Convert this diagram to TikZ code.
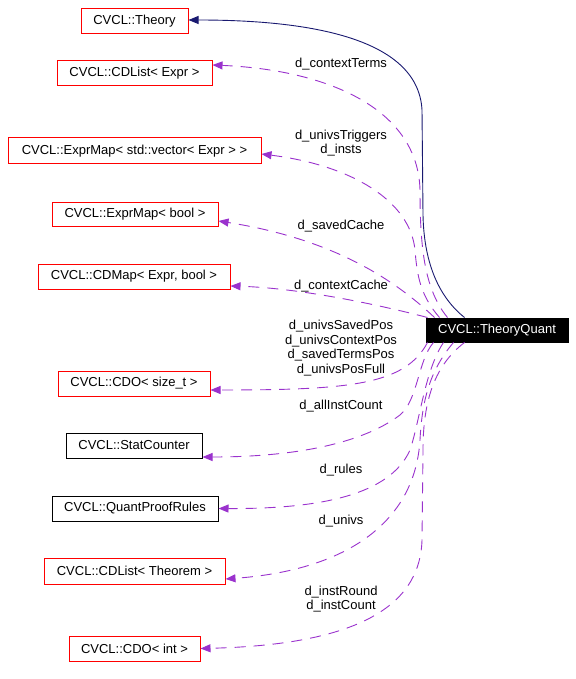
\documentclass[tikz,border=0pt]{standalone}
\usepackage{fontspec}
\setmainfont{Liberation Sans}
\usetikzlibrary{arrows.meta}
\definecolor{orch}{HTML}{9A32CD}
\definecolor{mnblue}{HTML}{191970}
\tikzset{
  box/.style={draw=red, line width=1pt, inner sep=0pt, font=\fontsize{13}{15}\selectfont},
  bbox/.style={draw=black, line width=1pt, inner sep=0pt, font=\fontsize{13}{15}\selectfont},
  lbl/.style={inner sep=0pt, align=center, font=\fontsize{13}{14.6}\selectfont},
  dep/.style={draw=orch, line width=0.9pt, dash pattern=on 11pt off 8pt, -{Triangle[length=10pt,width=8pt]}},
  inh/.style={draw=mnblue, line width=0.9pt, -{Triangle[length=10pt,width=8pt]}},
}
\begin{document}
\begin{tikzpicture}[x=1pt,y=-1pt]
\useasboundingbox (0,0) rectangle (575,679);
% nodes
\node[box, minimum width=107pt, minimum height=25pt] (theory) at (134.5,21.5) {CVCL::Theory};
\node[box, minimum width=155pt, minimum height=25pt] (cdlexpr) at (134.5,73.5) {CVCL::CDList< Expr >};
\node[box, minimum width=253pt, minimum height=26pt] (emvec) at (134.5,151) {CVCL::ExprMap< std::vector< Expr > >};
\node[box, minimum width=166pt, minimum height=24pt] (embool) at (135,214) {CVCL::ExprMap< bool >};
\node[box, minimum width=192pt, minimum height=25pt] (cdmap) at (134,276.5) {CVCL::CDMap< Expr, bool >};
\node[box, minimum width=152pt, minimum height=25pt] (cdosize) at (134,383.5) {CVCL::CDO< size\_t >};
\node[bbox, minimum width=136pt, minimum height=25pt] (stat) at (134,445.5) {CVCL::StatCounter};
\node[bbox, minimum width=166pt, minimum height=25pt] (qpr) at (135,508.5) {CVCL::QuantProofRules};
\node[box, minimum width=181pt, minimum height=26pt] (cdlthm) at (134.5,571) {CVCL::CDList< Theorem >};
\node[box, minimum width=131pt, minimum height=25pt] (cdoint) at (134.5,648.5) {CVCL::CDO< int >};
\node[draw=black, fill=black, text=white, line width=1pt, inner sep=0pt, minimum width=142pt, minimum height=24pt, font=\fontsize{13}{15}\selectfont] (tq) at (497,330) {CVCL::TheoryQuant};
% labels
\node[lbl] (l1) at (341,64) {d\_contextTerms};
\node[lbl] (l2) at (341,143) {d\_univsTriggers\\d\_insts};
\node[lbl] (l3) at (341,226) {d\_savedCache};
\node[lbl] (l4) at (341,286) {d\_contextCache};
\node[lbl] (l5) at (341,348) {d\_univsSavedPos\\d\_univsContextPos\\d\_savedTermsPos\\d\_univsPosFull};
\node[lbl] (l6) at (341,406) {d\_allInstCount};
\node[lbl] (l7) at (341,470) {d\_rules};
\node[lbl] (l8) at (341,521) {d\_univs};
\node[lbl] (l9) at (341,599) {d\_instRound\\d\_instCount};
% edges
\draw[inh] ([xshift=39pt]tq.north west) .. controls (440,298) and (424,265) .. (423,215) -- (422,110) .. controls (418,35) and (300,20) .. ([yshift=1.5pt]theory.east);
\draw[dep] ([xshift=22pt]tq.north west) .. controls (425,290) and (420,250) .. (420,190) .. controls (418,110) and (330,70) .. ([yshift=8.5pt]cdlexpr.east);
\draw[dep] ([xshift=14pt]tq.north west) .. controls (420,295) and (417,275) .. (415,250) .. controls (410,200) and (350,165) .. ([yshift=-3pt]emvec.east);
\draw[dep] ([xshift=9pt]tq.north west) .. controls (400,285) and (340,240) .. ([yshift=-7pt]embool.east);
\draw[dep] ([xshift=2pt]tq.north west) .. controls (380,305) and (300,288) .. ([yshift=-9.5pt]cdmap.east);
\draw[dep] ([xshift=2pt]tq.south west) .. controls (405,385) and (350,390) .. ([yshift=-6.5pt]cdosize.east);
\draw[dep] ([xshift=8pt]tq.south west) .. controls (418,360) and (418,400) .. (400,415) .. controls (360,445) and (290,457) .. ([yshift=-11.5pt]stat.east);
\draw[dep] ([xshift=18pt]tq.south west) .. controls (425,370) and (420,420) .. (410,450) .. controls (390,495) and (320,509) .. (qpr.east);
\draw[dep] ([xshift=28pt]tq.south west) .. controls (430,370) and (422,400) .. (420,440) .. controls (415,520) and (350,570) .. ([yshift=-8pt]cdlthm.east);
\draw[dep] ([xshift=39pt]tq.south west) .. controls (435,365) and (423,400) .. (423,450) -- (422,540) .. controls (420,610) and (350,645) .. (cdoint.east);
\end{tikzpicture}
\end{document}
